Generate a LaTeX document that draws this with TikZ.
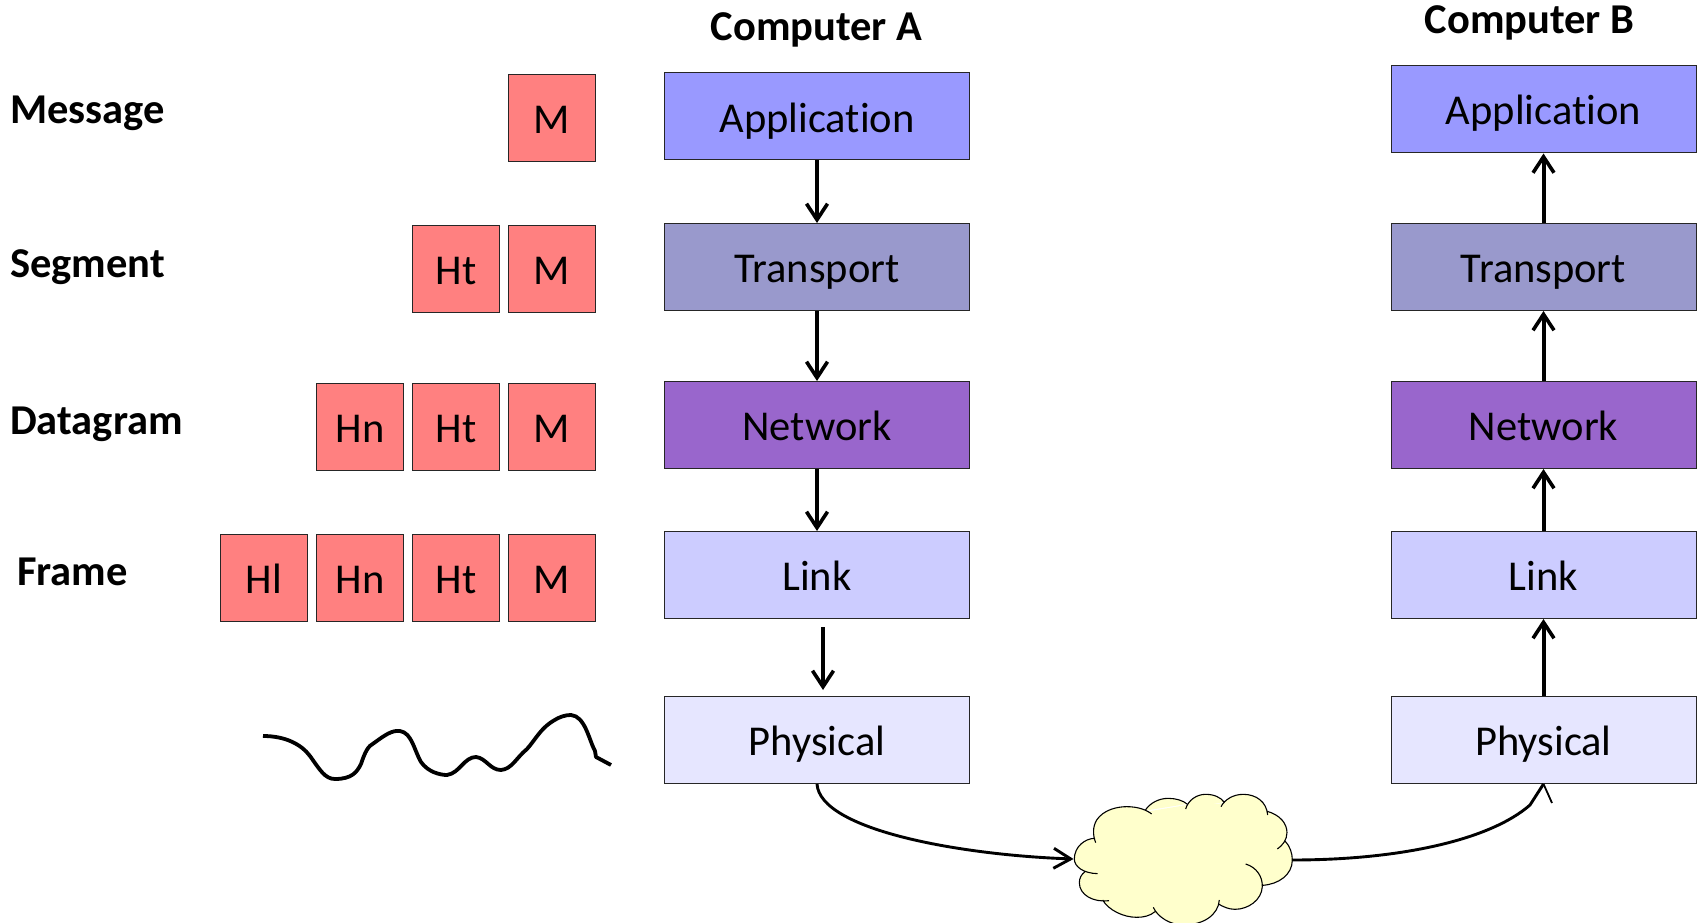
\documentclass[tikz,border=0pt]{standalone}
\usepackage{fontspec}
\setmainfont[Ligatures=NoCommon]{Carlito}
\usetikzlibrary{arrows.meta}
\definecolor{capp}{HTML}{9999FF}
\definecolor{ctrans}{HTML}{9999CC}
\definecolor{cnet}{HTML}{9966CC}
\definecolor{clink}{HTML}{CCCCFF}
\definecolor{cphys}{HTML}{E6E6FF}
\definecolor{cpkt}{HTML}{FF8080}
\definecolor{ccloud}{HTML}{FFFFCC}
\tikzset{
  x=1pt,y=-1pt,
  layer/.style={draw=black!85,line width=1pt,inner sep=0pt,minimum width=305pt,minimum height=87pt,text height=34pt,text depth=3pt,font=\fontsize{42.5}{43}\selectfont},
  pkt/.style={draw=black!85,fill=cpkt,line width=1pt,inner sep=0pt,minimum width=87pt,minimum height=87pt,text height=34pt,text depth=3pt,font=\fontsize{42.5}{43}\selectfont},
  lbl/.style={inner sep=0pt,font=\bfseries\fontsize{42.5}{43}\selectfont},
  arr/.style={line width=4pt,-{Straight Barb[length=16pt,width=21pt,line width=3.6pt]}},
  curve/.style={line width=2.9pt},
}
\begin{document}
\begin{tikzpicture}
\useasboundingbox (0,0) rectangle (1700,923);
% Computer A
\node[layer,fill=capp]   (aapp)   at (817,116.5) {Application};
\node[layer,fill=ctrans] (atrans) at (817,267) {Transport};
\node[layer,fill=cnet]   (anet)   at (817,425)   {Network};
\node[layer,fill=clink]  (alink)  at (817,575) {Link};
\node[layer,fill=cphys]  (aphys)  at (817,740)   {Physical};
% Computer B
\node[layer,fill=capp]   (bapp)   at (1543.5,109.5) {Application};
\node[layer,fill=ctrans] (btrans) at (1543.5,267) {Transport};
\node[layer,fill=cnet]   (bnet)   at (1543.5,425)   {Network};
\node[layer,fill=clink]  (blink)  at (1543.5,575) {Link};
\node[layer,fill=cphys]  (bphys)  at (1543.5,740)   {Physical};
% titles
\node[lbl] (ta) at (816.5,30) {Computer A};
\node[lbl] (tb) at (1529.5,23) {Computer B};
% row labels
\node[lbl,anchor=base west] (lm) at (10,124) {Message};
\node[lbl,anchor=base west] (ls) at (10,277) {Segment};
\node[lbl,anchor=base west] (ld) at (10,434) {Datagram};
\node[lbl,anchor=base west] (lf) at (17,585) {Frame};
% packets
\node[pkt] (m1) at (551.5,118.5) {M};
\node[pkt] (t2) at (456,269) {Ht};
\node[pkt] (m2) at (551.5,269) {M};
\node[pkt] (n3) at (360,426.5) {Hn};
\node[pkt] (t3) at (456,426.5) {Ht};
\node[pkt] (m3) at (551.5,426.5) {M};
\node[pkt] (l4) at (264,577.5) {Hl};
\node[pkt] (n4) at (360,577.5) {Hn};
\node[pkt] (t4) at (456,577.5) {Ht};
\node[pkt] (m4) at (551.5,577.5) {M};
% arrows
\draw[arr] (aapp) -- (atrans);
\draw[arr] (atrans) -- (anet);
\draw[arr] (anet) -- (alink);
\coordinate (lk1) at (823,627);
\coordinate (lk2) at (823,690);
\draw[arr] (lk1) -- (lk2);
\draw[arr] (bphys) -- (blink);
\draw[arr] (blink) -- (bnet);
\draw[arr] (bnet) -- (btrans);
\draw[arr] (btrans) -- (bapp);
% wave
\coordinate (wave) at (263,736);
\draw[line width=3.8pt,line join=round] (wave) .. controls (285,736) and (301,744) .. (310,756)
 .. controls (320,770) and (325,779) .. (335,779)
 .. controls (352,779) and (357,772) .. (361,764)
 .. controls (365,752) and (368,746) .. (374,743)
 .. controls (385,735) and (392,730) .. (400,731)
 .. controls (412,733) and (414,750) .. (421,762)
 .. controls (428,772) and (440,775) .. (447,775)
 .. controls (460,773) and (464,757) .. (476,757)
 .. controls (486,758) and (490,770) .. (501,770)
 .. controls (512,769) and (516,758) .. (527,749)
 .. controls (535,740) and (540,730) .. (550,723)
 .. controls (560,716) and (566,715) .. (571,715)
 .. controls (585,716) and (589,740) .. (595,751)
 -- (596,757) -- (611,765);
% cloud
\begin{scope}[shift={(1040,760)},x=0.3333pt,y=-0.3333pt]
\fill[ccloud] (150,280) -- (170,210) -- (320,155) -- (440,135) -- (550,130) -- (685,160) -- (735,245) -- (750,320) -- (665,375) -- (540,425) -- (430,490) -- (350,462) -- (190,425) -- (130,340) -- cycle;
\path[fill=ccloud,draw=black,line width=1.1pt]
 (173,341) .. controls (130,340) and (103,320) .. (103,297) .. controls (103,260) and (135,235) .. (165,235)
 (167,248) .. controls (158,225) and (158,200) .. (170,180) .. controls (190,150) and (230,140) .. (260,140) .. controls (295,140) and (320,150) .. (335,162)
 (315,152) .. controls (330,128) and (358,115) .. (385,115) .. controls (408,115) and (430,122) .. (441,132)
 (437,147) .. controls (445,120) and (470,103) .. (497,103) .. controls (522,103) and (542,112) .. (552,126)
 (543,140) .. controls (555,118) and (580,103) .. (610,103) .. controls (648,103) and (680,125) .. (683,165)
 (682,154) .. controls (720,165) and (741,190) .. (741,218) .. controls (741,240) and (727,257) .. (712,267)
 (735,243) .. controls (750,258) and (757,280) .. (757,300) .. controls (757,345) and (715,373) .. (668,376)
 (617,312) .. controls (650,322) and (668,350) .. (667,380) .. controls (665,420) and (625,448) .. (585,448) .. controls (565,448) and (550,440) .. (535,432)
 (538,420) .. controls (535,465) and (490,495) .. (430,495) .. controls (390,495) and (352,470) .. (340,442)
 (345,455) .. controls (330,468) and (310,472) .. (290,472) .. controls (250,472) and (205,450) .. (188,420)
 (207,422) .. controls (160,428) and (118,405) .. (118,368) .. controls (118,355) and (124,343) .. (135,335);
\end{scope}
\coordinate (cw) at (1073.5,859);
\coordinate (ce) at (1292,860);
\coordinate (barb) at (1552,803);
\draw[curve,-{Straight Barb[length=17pt,width=20pt,line width=2.9pt]}] (aphys.south) .. controls (820,830) and (960,855) .. (cw);
\draw[curve,line join=miter] (ce) .. controls (1400,860) and (1490,840) .. (1530,805) -- (bphys.south);
\draw[line width=1.8pt] (bphys.south) -- (barb);
\end{tikzpicture}
\end{document}
